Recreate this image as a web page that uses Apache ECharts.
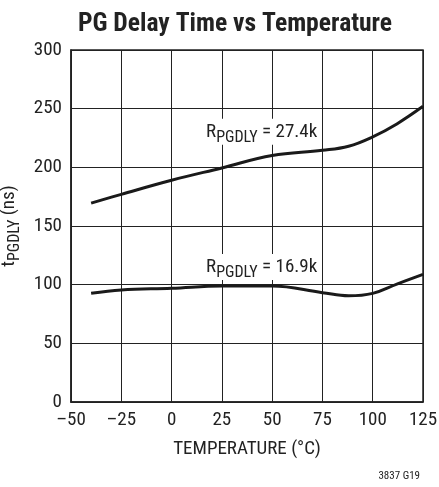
<!DOCTYPE html>
<html><head><meta charset="utf-8">
<script src="https://cdn.jsdelivr.net/npm/echarts@6/dist/echarts.min.js"></script>
<style>html,body{margin:0;padding:0;background:#fff}#c{width:439px;height:487px}</style>
</head><body><div id="c"></div>
<script>
const temps = [-40, -25, 0, 25, 50, 75, 88, 100, 112, 125];
const delay274 = [169.5, 177, 189, 199.5, 210, 214.5, 218, 226, 237, 252];
const delay169 = [92.6, 95.5, 96.9, 98.8, 98.8, 93.2, 90.5, 92.6, 100.5, 108.8];
const xTicks = [-50, -25, 0, 25, 50, 75, 100, 125];
const yTicks = [0, 50, 100, 150, 200, 250, 300];
const labelTop = {text: '27.4k', at: [44.8, 230.4]};
const labelBot = {text: '16.9k', at: [44.8, 115]};

const F = '"Liberation Sans Narrow","Roboto Condensed","Liberation Sans",sans-serif';
const chart = echarts.init(document.getElementById('c'), null, {renderer: 'canvas'});
const pair = (xs, ys) => xs.map((x, i) => [x, ys[i]]);
const rich = {
  r: {fontFamily: F, fontSize: 19, color: '#222', verticalAlign: 'bottom', lineHeight: 22},
  s: {fontFamily: F, fontSize: 16, color: '#222', verticalAlign: 'bottom', lineHeight: 18, padding: [0,0,-4,0]}
};
function mk(lbl) {
  return {
    symbol: 'rect', symbolSize: 0, silent: true,
    data: [{coord: lbl.at, value: 0}],
    label: {
      show: true, position: 'inside',
      formatter: '{r|R}{s|PGDLY}{r| = ' + lbl.text + '}',
      rich: rich, backgroundColor: '#fff', padding: [1, 2, 3, 2]
    }
  };
}
chart.setOption({
  animation: false,
  backgroundColor: '#fff',
  title: {
    text: 'PG Delay Time vs Temperature', left: 230, top: 7, textAlign: 'center',
    textStyle: {fontFamily: F, fontSize: 25.6, fontWeight: 'bold', color: '#222'}
  },
  graphic: [{
    type: 'text', right: 19, top: 471,
    style: {text: '3837 G19', fontFamily: F, fontSize: 11, fill: '#222'}
  }],
  grid: {left: 71, right: 16, top: 50, bottom: 85, outerBoundsMode: 'none', containLabel: false,
    show: true, borderColor: '#222', borderWidth: 1.5, backgroundColor: 'transparent'},
  xAxis: {
    type: 'value', min: xTicks[0], max: xTicks[xTicks.length - 1], interval: 25,
    name: 'TEMPERATURE (°C)', nameLocation: 'middle', nameGap: 38,
    nameTextStyle: {fontFamily: F, fontSize: 19, color: '#222'},
    axisLine: {show: true, onZero: false, lineStyle: {color: '#222', width: 1.5}},
    axisTick: {show: false},
    splitLine: {show: true, lineStyle: {color: '#222', width: 1}},
    axisLabel: {fontFamily: F, fontSize: 19, color: '#222', margin: 9,
      formatter: v => String(v).replace('-', '\u2013')}
  },
  yAxis: {
    type: 'value', min: yTicks[0], max: yTicks[yTicks.length - 1], interval: 50,
    name: '{r|t}{s|PGDLY}{r| (ns)}', nameLocation: 'middle', nameGap: 49, nameRotate: 90,
    nameTextStyle: {rich: rich},
    axisLine: {show: true, onZero: false, lineStyle: {color: '#222', width: 1.5}},
    axisTick: {show: false},
    splitLine: {show: true, lineStyle: {color: '#222', width: 1}},
    axisLabel: {fontFamily: F, fontSize: 19, color: '#222', margin: 9}
  },
  series: [
    {type: 'line', data: pair(temps, delay274), smooth: 0.4, symbol: 'none',
     lineStyle: {color: '#1a1a1a', width: 3}, markPoint: mk(labelTop), z: 3},
    {type: 'line', data: pair(temps, delay169), smooth: 0.4, symbol: 'none',
     lineStyle: {color: '#1a1a1a', width: 3}, markPoint: mk(labelBot), z: 3}
  ]
});
</script></body></html>
